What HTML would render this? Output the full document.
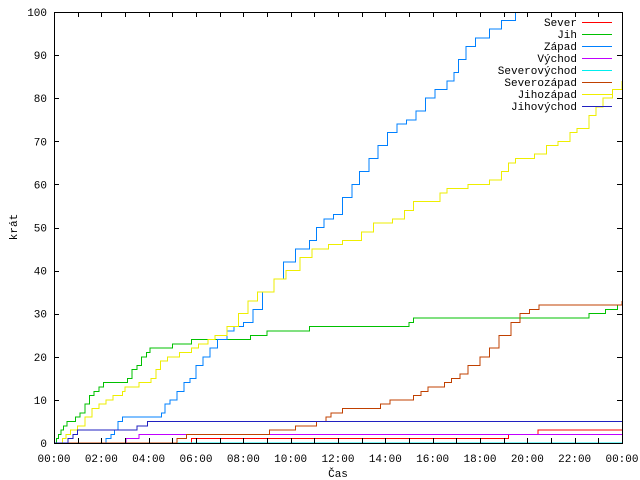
<!DOCTYPE html>
<html><head><meta charset="utf-8">
<style>
body{margin:0;background:#fff}
svg{display:block;font-family:"Liberation Mono","DejaVu Sans Mono",monospace;font-size:11px}
</style></head>
<body>
<svg id="chart" width="640" height="480" viewBox="0 0 640 480" xmlns="http://www.w3.org/2000/svg">
<rect width="640" height="480" fill="#fff"/>
<g id="marks"></g>
<g id="axes"></g>
<g id="legend"></g>
<text x="338" y="477" text-anchor="middle">Čas</text>
<text transform="translate(17,227) rotate(-90)" text-anchor="middle">krát</text>
</svg>
<script>
const seriesNames=["Sever","Jih","Západ","Východ","Severovýchod","Severozápad","Jihozápad","Jihovýchod"];
const seriesColors=["#ff0000","#00c000","#0080ff","#c000ff","#00eeee","#c04000","#eeee00","#2020c0"];
const xTickLabels=["00:00","02:00","04:00","06:00","08:00","10:00","12:00","14:00","16:00","18:00","20:00","22:00","00:00"];
const yTickValues=[0,10,20,30,40,50,60,70,80,90,100];
// [hour, count] step points
const sever=[[0,0],[5.8,1],[19.2,2],[20.45,3],[24,3]];
const jih=[[0,0],[0.1,1],[0.2,2],[0.3,3],[0.4,4],[0.55,5],[0.9,6],[1.1,7],[1.3,9],[1.5,11],[1.7,12],[1.9,13],[2.1,14],[3.1,15],[3.3,17],[3.5,18],[3.7,20],[3.9,21],[4.05,22],[5.0,23],[5.8,24],[8.3,25],[9.0,26],[10.8,27],[15.0,28],[15.2,29],[22.6,30],[23.3,31],[23.8,32],[24,33]];
const zapad=[[0,0],[2.2,1],[2.4,2],[2.55,3],[2.7,5],[2.9,6],[4.55,7],[4.7,9],[4.9,10],[5.2,12],[5.5,14],[5.75,15],[6.0,18],[6.3,20],[6.6,22],[6.9,24],[7.3,26],[7.6,27],[8.0,28],[8.4,31],[8.8,35],[9.3,38],[9.7,42],[10.2,45],[10.8,47],[11.1,50],[11.4,52],[11.8,53],[12.2,57],[12.6,60],[12.9,63],[13.3,66],[13.7,69],[14.1,72],[14.5,74],[14.9,75],[15.3,77],[15.7,80],[16.1,82],[16.6,84],[16.9,86],[17.1,89],[17.4,92],[17.8,94],[18.4,96],[18.9,98],[19.5,100]];
const vychod=[[0,0],[3.05,1],[3.6,2],[24,2]];
const severovychod=[[0,0],[24,0]];
const severozapad=[[0,0],[5.2,1],[5.6,2],[9.1,3],[10.2,4],[11.1,5],[11.5,6],[11.7,7],[12.2,8],[13.8,9],[14.2,10],[15.2,11],[15.5,12],[15.8,13],[16.5,14],[16.8,15],[17.15,16],[17.5,18],[18.0,20],[18.4,22],[18.8,25],[19.3,28],[19.7,30],[20.1,31],[20.5,32],[23.9,32],[24,33]];
const jihozapad=[[0,0],[0.35,1],[0.5,2],[0.7,3],[1.0,4],[1.3,6],[1.6,8],[1.9,9],[2.2,10],[2.5,11],[2.9,12],[3.0,13],[3.6,14],[4.1,15],[4.3,17],[4.5,19],[4.8,20],[5.3,21],[5.8,22],[6.1,23],[6.5,24],[6.8,25],[7.3,27],[7.8,30],[8.2,33],[8.6,35],[9.3,38],[9.8,40],[10.4,43],[10.9,45],[11.6,46],[12.2,47],[13.0,49],[13.5,51],[14.3,52],[14.8,54],[15.2,56],[16.3,58],[16.6,59],[17.5,60],[18.4,61],[18.9,63],[19.2,65],[19.5,66],[20.3,67],[20.8,69],[21.3,70],[21.8,72],[22.1,73],[22.6,76],[22.9,78],[23.2,80],[23.6,82],[24,84]];
const jihovychod=[[0,0],[0.6,1],[0.8,2],[1.0,3],[3.5,4],[3.95,5],[24,5]];
const allSeries=[sever,jih,zapad,vychod,severovychod,severozapad,jihozapad,jihovychod];

const X0=54,X1=622,Y0=443,Y1=12;
const xs=h=>X0+(X1-X0)*h/24;
const ys=v=>Y0-(Y0-Y1)*v/100;
const NS="http://www.w3.org/2000/svg";
function mk(tag,attrs,parent){const e=document.createElementNS(NS,tag);for(const k in attrs)e.setAttribute(k,attrs[k]);parent.appendChild(e);return e;}

const marks=document.getElementById('marks');
allSeries.forEach((s,i)=>{
  let d="M"+xs(s[0][0])+","+ys(Math.min(s[0][1],100));
  for(let j=1;j<s.length;j++){
    d+=" H"+xs(s[j][0])+" V"+ys(Math.min(s[j][1],100));
  }
  const p=mk('path',{d:d,fill:'none',stroke:seriesColors[i],'stroke-width':1,'shape-rendering':'crispEdges'},marks);
  
  
});

const axes=document.getElementById('axes');
const frame=mk('rect',{x:X0+0.5,y:Y1+0.5,width:X1-X0,height:Y0-Y1,fill:'none',stroke:'#000','stroke-width':1,'shape-rendering':'crispEdges'},axes);


for(let h=0;h<=24;h++){
  const x=Math.round(xs(h))+0.5;
  mk('line',{x1:x,x2:x,y1:Y0,y2:Y0-5,stroke:'#000','shape-rendering':'crispEdges'},axes);
  mk('line',{x1:x,x2:x,y1:Y1,y2:Y1+5,stroke:'#000','shape-rendering':'crispEdges'},axes);
}
xTickLabels.forEach((t,i)=>{
  const e=mk('text',{x:xs(i*2),y:462,'text-anchor':'middle'},axes);
  e.textContent=t;
  
  
});
yTickValues.forEach(v=>{
  const y=Math.round(ys(v))+0.5;
  mk('line',{x1:X0,x2:X0+5,y1:y,y2:y,stroke:'#000','shape-rendering':'crispEdges'},axes);
  mk('line',{x1:X1-5,x2:X1,y1:y,y2:y,stroke:'#000','shape-rendering':'crispEdges'},axes);
  const e=mk('text',{x:47,y:ys(v)+4,'text-anchor':'end'},axes);
  e.textContent=v;
  
  
});

const legend=document.getElementById('legend');
seriesNames.forEach((n,i)=>{
  const y=22+i*12;
  const t=mk('text',{x:577,y:y+4,'text-anchor':'end'},legend);
  t.textContent=n;
  
  
  const l=mk('line',{x1:582,x2:612,y1:y+0.5,y2:y+0.5,stroke:seriesColors[i],'shape-rendering':'crispEdges'},legend);
  
  
});
</script>
</body></html>
